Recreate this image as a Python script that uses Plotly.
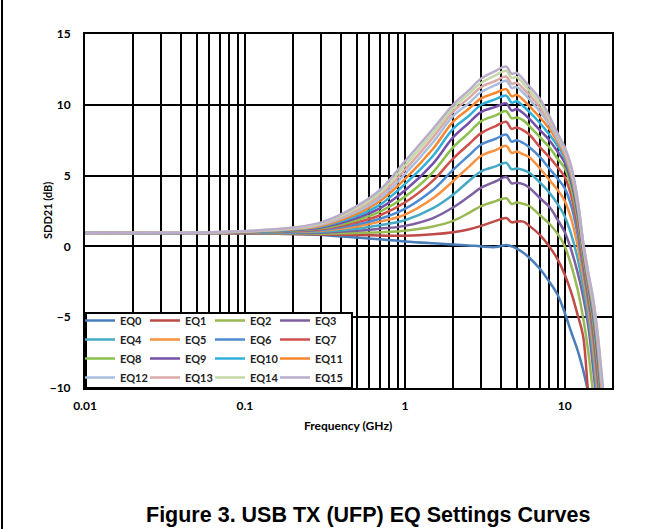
import plotly.graph_objects as go

# frequency points (GHz) shared by all curves
freq = [0.01, 0.05, 0.1, 0.2, 0.3, 0.5, 0.7, 1.0, 1.5, 2.0, 2.5, 3.0, 3.7, 4.3, 4.65,
        5.0, 5.5, 6.0, 7.0, 8.0, 9.0, 10.0, 11.0, 12.0, 13.0, 14.0, 15.0, 16.0, 17.0, 18.0]

eq0 = [0.95, 0.94, 0.92, 0.87, 0.8, 0.62, 0.5, 0.35, 0.22, 0.14, 0.07, 0.0, -0.05, 0.1, 0.0,
       -0.15, -0.45, -0.8, -1.6, -2.5, -3.4, -4.7, -6.1, -7.3, -8.7, -10.3, -12.0, -13.5, -14.0, -14.0]
eq1 = [0.95, 0.94, 0.92, 0.88, 0.84, 0.8, 0.77, 0.75, 0.85, 1.0, 1.2, 1.45, 1.8, 2.0, 1.7,
       1.75, 1.75, 1.45, 0.8, 0.0, -0.9, -2.0, -3.3, -4.8, -6.3, -10.3, -13.0, -14.0, -14.0, -14.0]
eq2 = [0.95, 0.95, 0.94, 0.91, 0.9, 0.95, 1.0, 1.1, 1.4, 1.8, 2.35, 2.85, 3.2, 3.4, 3.0,
       3.1, 3.0, 2.85, 2.2, 1.6, 0.9, 0.0, -1.4, -3.0, -5.0, -7.4, -10.3, -13.0, -14.0, -14.0]
eq3 = [0.95, 0.95, 0.95, 0.95, 0.97, 1.1, 1.25, 1.45, 2.0, 2.75, 3.5, 4.15, 4.6, 4.9, 4.45,
       4.5, 4.4, 4.15, 3.4, 2.8, 1.9, 1.0, -0.3, -1.8, -3.5, -5.6, -8.5, -11.5, -14.0, -14.0]
eq4 = [0.95, 0.96, 0.97, 0.99, 1.04, 1.25, 1.5, 1.85, 2.7, 3.65, 4.6, 5.3, 5.65, 5.9, 5.45,
       5.5, 5.4, 5.2, 4.5, 3.8, 3.0, 2.1, 0.8, -0.8, -2.8, -4.9, -7.6, -10.8, -13.8, -14.0]
eq5 = [0.95, 0.96, 0.98, 1.03, 1.1, 1.4, 1.75, 2.25, 3.4, 4.6, 5.6, 6.4, 6.8, 7.1, 6.6,
       6.7, 6.5, 6.3, 5.5, 4.7, 4.0, 3.2, 1.9, 0.1, -2.1, -4.3, -6.9, -10.0, -13.2, -14.0]
eq6 = [0.95, 0.96, 0.99, 1.06, 1.16, 1.55, 1.95, 2.65, 4.0, 5.4, 6.4, 7.2, 7.6, 7.9, 7.4,
       7.5, 7.3, 7.0, 6.3, 5.5, 4.8, 4.1, 2.8, 0.9, -1.5, -3.8, -6.2, -9.3, -12.6, -14.0]
eq7 = [0.95, 0.97, 1.0, 1.09, 1.22, 1.7, 2.2, 3.1, 4.65, 6.2, 7.2, 8.0, 8.5, 8.8, 8.3,
       8.4, 8.2, 7.9, 7.0, 6.3, 5.6, 4.9, 3.5, 1.5, -1.0, -3.4, -5.7, -8.7, -12.0, -14.0]
eq8 = [0.95, 0.97, 1.01, 1.12, 1.28, 1.85, 2.45, 3.5, 5.25, 7.0, 8.0, 8.85, 9.25, 9.55, 9.05,
       9.1, 8.9, 8.5, 7.7, 7.0, 6.2, 5.5, 4.1, 2.0, -0.6, -3.0, -5.2, -8.1, -11.5, -14.0]
eq9 = [0.95, 0.97, 1.02, 1.15, 1.34, 2.0, 2.7, 3.95, 5.85, 7.7, 8.7, 9.5, 9.85, 10.1, 9.6,
       9.7, 9.4, 9.0, 8.2, 7.5, 6.7, 5.9, 4.5, 2.4, -0.3, -2.7, -4.8, -7.6, -11.0, -14.0]
eq10 = [0.95, 0.97, 1.03, 1.18, 1.4, 2.15, 2.95, 4.4, 6.4, 8.3, 9.2, 10.0, 10.4, 10.65, 10.15,
        10.25, 9.9, 9.5, 8.7, 7.9, 7.1, 6.2, 4.8, 2.7, -0.1, -2.5, -4.5, -7.2, -10.5, -14.0]
eq11 = [0.95, 0.98, 1.04, 1.21, 1.46, 2.3, 3.2, 4.75, 6.9, 8.8, 9.7, 10.45, 10.85, 11.1, 10.6,
        10.7, 10.35, 9.9, 9.1, 8.3, 7.4, 6.4, 5.0, 2.9, 0.05, -2.3, -4.2, -6.8, -10.1, -13.0]
eq12 = [0.95, 0.98, 1.05, 1.24, 1.52, 2.45, 3.4, 5.1, 7.35, 9.2, 10.1, 10.9, 11.4, 11.7, 11.2,
        11.25, 10.85, 10.4, 9.5, 8.6, 7.6, 6.6, 5.2, 3.05, 0.15, -2.1, -4.0, -6.5, -9.7, -12.8]
eq13 = [0.95, 0.98, 1.06, 1.27, 1.58, 2.6, 3.6, 5.4, 7.7, 9.5, 10.45, 11.25, 11.7, 12.0, 11.5,
        11.55, 11.15, 10.7, 9.8, 8.8, 7.8, 6.75, 5.35, 3.2, 0.25, -2.0, -3.8, -6.3, -9.4, -12.5]
eq14 = [0.95, 0.98, 1.07, 1.3, 1.64, 2.7, 3.8, 5.7, 8.0, 9.75, 10.75, 11.55, 12.1, 12.4, 11.9,
        11.95, 11.5, 11.0, 10.1, 9.0, 7.9, 6.9, 5.5, 3.3, 0.35, -1.9, -3.7, -6.1, -9.2, -12.2]
eq15 = [0.95, 0.98, 1.08, 1.33, 1.7, 2.85, 4.0, 6.0, 8.3, 10.0, 11.0, 11.85, 12.4, 12.7, 12.2,
        12.25, 11.8, 11.3, 10.4, 9.2, 8.0, 7.0, 5.6, 3.4, 0.4, -1.8, -3.6, -6.0, -9.0, -12.0]

names = ["EQ%d" % i for i in range(16)]
series = [eq0, eq1, eq2, eq3, eq4, eq5, eq6, eq7, eq8, eq9, eq10, eq11, eq12, eq13, eq14, eq15]
colors = ["#4A7EBB", "#BE4B48", "#98B954", "#7D60A0", "#46AAC5", "#F69240",
          "#4F8BD0", "#D0504D", "#8CC04C", "#7650A8", "#30B0D8", "#F8862E",
          "#A9BEDF", "#DDA9A7", "#C4D9A6", "#B9ADCB"]

x_ticks = [0.01, 0.1, 1, 10]
x_ticktext = ["0.01", "0.1", "1", "10"]

FONT = "Lato"

fig = go.Figure()
legend_ids = ["legend", "legend2", "legend3", "legend4"]
for i, (name, ys) in enumerate(zip(names, series)):
    fig.add_trace(go.Scatter(
        x=freq, y=ys, name=name, mode="lines",
        line=dict(color=colors[i], width=2.5, shape="spline", smoothing=1.0),
        legend=legend_ids[i % 4],
    ))

# pixel -> paper helpers (plot area is 85..612 x 34..388)
px_x = lambda p: (p - 85) / 527.0
px_y = lambda p: (388 - p) / 354.0
shapes = [
    # legend box drawn over the curves, the legends sit on top of it
    dict(type="rect", xref="paper", yref="paper",
         x0=px_x(86), x1=px_x(352), y0=px_y(388), y1=px_y(313),
         fillcolor="white", line=dict(color="black", width=2), layer="above"),
    dict(type="line", xref="paper", yref="paper",
         x0=px_x(2), x1=px_x(2), y0=px_y(0), y1=px_y(529),
         line=dict(color="black", width=2)),
]

legend_style = dict(
    bgcolor="rgba(0,0,0,0)", borderwidth=0,
    font=dict(family=FONT, size=11, color="#222", weight="bold"),
    xanchor="left", yanchor="top", y=px_y(306), tracegroupgap=0,
)
layout_legends = {}
for k, lid in enumerate(legend_ids):
    layout_legends[lid] = dict(legend_style, x=px_x(80 + 65 * k))

fig.update_layout(
    width=667, height=529,
    margin=dict(l=85, r=55, t=34, b=141, autoexpand=False),
    paper_bgcolor="white", plot_bgcolor="white",
    font=dict(family=FONT, color="black"),
    shapes=shapes,
    **layout_legends,
    xaxis=dict(
        type="log", range=[-2, 1.295], automargin=False,
        tickvals=x_ticks, ticktext=x_ticktext,
        tickfont=dict(size=12, weight="bold"),
        showgrid=True, gridcolor="black", gridwidth=1.5,
        minor=dict(dtick="D1", showgrid=True, gridcolor="black", gridwidth=1.5),
        showline=True, linecolor="black", linewidth=2, mirror=True,
        ticks="", ticklabelstandoff=6,
    ),
    yaxis=dict(
        range=[-10, 15], dtick=5, automargin=False,
        tickfont=dict(size=12, weight="bold"),
        showgrid=True, gridcolor="black", gridwidth=2,
        zeroline=True, zerolinecolor="black", zerolinewidth=2,
        showline=True, linecolor="black", linewidth=2, mirror=True,
        ticks="", ticklabelstandoff=10,
    ),
    annotations=[
        dict(text="Frequency (GHz)", xref="paper", yref="paper",
             x=px_x(348), y=px_y(425), xanchor="center", yanchor="middle", showarrow=False,
             font=dict(size=12, weight="bold")),
        dict(text="SDD21 (dB)", xref="paper", yref="paper", textangle=-90,
             x=px_x(47), y=px_y(211), xanchor="center", yanchor="middle", showarrow=False,
             font=dict(size=11, weight="bold")),
        dict(text="Figure 3. USB TX (UFP) EQ Settings Curves", xref="paper", yref="paper",
             x=px_x(368), y=px_y(515), xanchor="center", yanchor="middle", showarrow=False,
             font=dict(family="Liberation Sans", size=21.5, weight="bold", color="black")),
    ],
)

# the page body has a default 8px margin; drop it so the figure starts at the window corner
fig.write_html("out.html", config={"displayModeBar": False},
               post_script="document.body.style.margin = '0';")
